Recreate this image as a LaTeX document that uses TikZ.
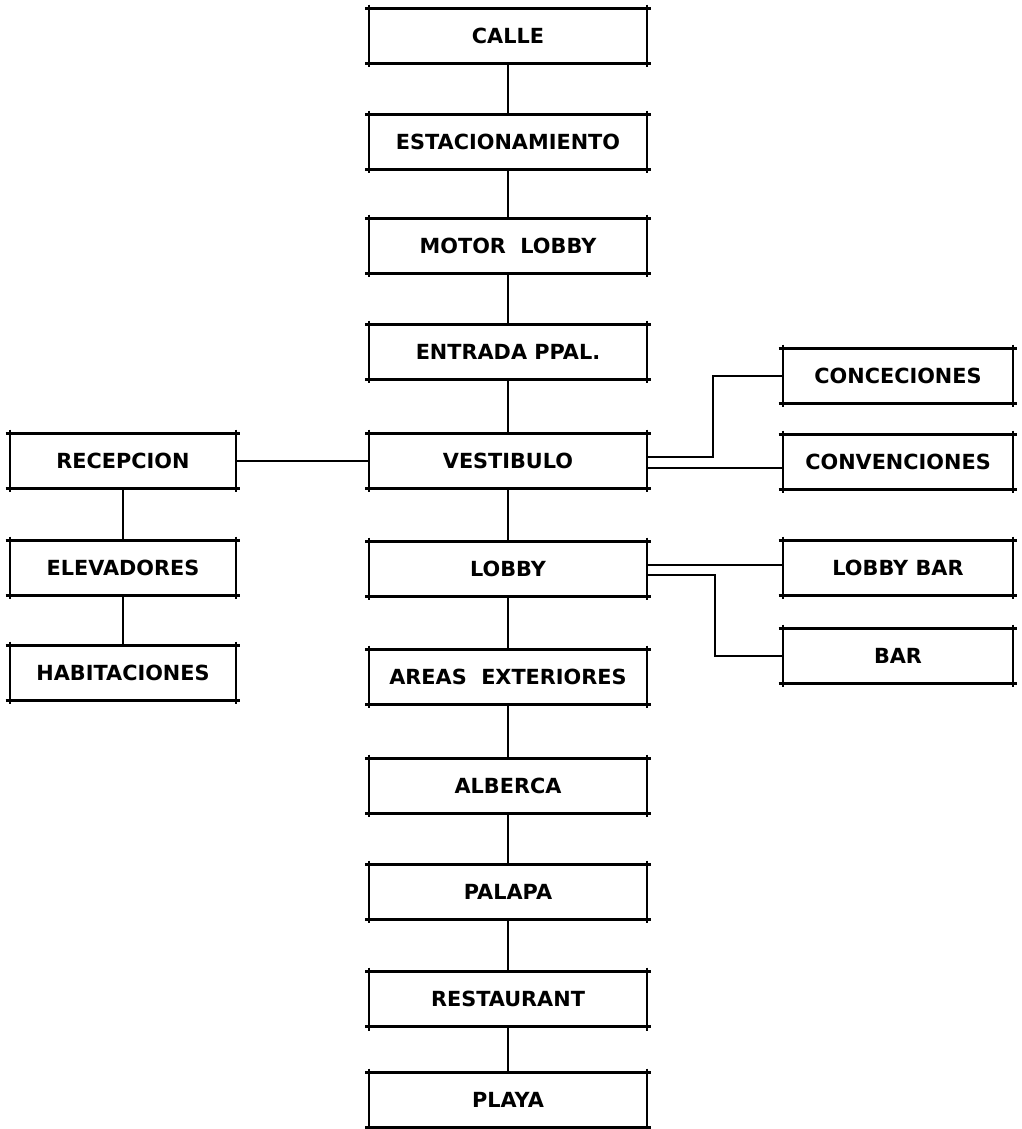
\documentclass[tikz,border=0pt]{standalone}
\usepackage{fontspec}
\setmainfont{DejaVu Sans}
\usetikzlibrary{calc, positioning}

\begin{document}
\begin{tikzpicture}[
    x=0.025cm, y=-0.025cm,
    every node/.style={font=\fontsize{14.8}{17}\selectfont\bfseries},
    box/.style={inner sep=0pt, minimum height=1.36cm},
    mid/.style={box, minimum width=6.92cm},
    side/.style={box, minimum width=5.65cm},
    frame/.style={line width=1.6pt},
    link/.style={line width=1.3pt}
]
\useasboundingbox (0,0) rectangle (1021,1129);

% Colonne centrale
\node[mid] (calle)   at (508,36)   {CALLE};
\node[mid] (estac)   at (508,142)  {ESTACIONAMIENTO};
\node[mid] (motor)   at (508,246)  {MOTOR\ \ LOBBY};
\node[mid] (entrada) at (508,352)  {ENTRADA PPAL.};
\node[mid] (vest)    at (508,461)  {VESTIBULO};
\node[mid] (lobby)   at (508,569)  {LOBBY};
\node[mid] (areas)   at (508,677)  {AREAS\ \ EXTERIORES};
\node[mid] (alberca) at (508,786)  {ALBERCA};
\node[mid] (palapa)  at (508,892)  {PALAPA};
\node[mid] (rest)    at (508,999)  {RESTAURANT};
\node[mid] (playa)   at (508,1100) {PLAYA};

% Colonne gauche
\node[side] (recep) at (123,461) {RECEPCION};
\node[side] (elev)  at (123,568) {ELEVADORES};
\node[side] (hab)   at (123,673) {HABITACIONES};

% Colonne droite
\node[side, minimum width=5.75cm] (conc) at (898,376) {CONCECIONES};
\node[side, minimum width=5.75cm] (conv) at (898,462) {CONVENCIONES};
\node[side, minimum width=5.75cm] (lbar) at (898,568) {LOBBY BAR};
\node[side, minimum width=5.75cm] (bar)  at (898,656) {BAR};

% Cadres
\foreach \n in {calle,estac,motor,entrada,vest,lobby,areas,alberca,palapa,rest,playa,recep,elev,hab,conc,conv,lbar,bar}{
  \draw[frame] ($(\n.north west)+(-4,0)$) -- ($(\n.north east)+(4,0)$);
  \draw[frame] ($(\n.south west)+(-4,0)$) -- ($(\n.south east)+(4,0)$);
  \draw[frame] ($(\n.north west)+(0,-4)$) -- ($(\n.south west)+(0,4)$);
  \draw[frame] ($(\n.north east)+(0,-4)$) -- ($(\n.south east)+(0,4)$);
}

% Liaisons verticales
\foreach \a/\b in {calle/estac,estac/motor,motor/entrada,entrada/vest,vest/lobby,lobby/areas,areas/alberca,alberca/palapa,palapa/rest,rest/playa,recep/elev,elev/hab}
  \draw[link] (\a.south) -- (\b.north);

% Liaisons horizontales
\draw[link] (recep.east) -- (vest.west);
\draw[link] ($(vest.east)+(0,-4)$) -| ($(conc.west)+(-70,0)$) -- (conc.west);
\draw[link] ($(vest.east)+(0,7)$) coordinate (v2) -- (v2 -| conv.west);
\draw[link] ($(lobby.east)+(0,-4)$) coordinate (l1) -- (l1 -| lbar.west);
\draw[link] ($(lobby.east)+(0,6)$) -| ($(bar.west)+(-68,0)$) -- (bar.west);

\end{tikzpicture}
\end{document}
